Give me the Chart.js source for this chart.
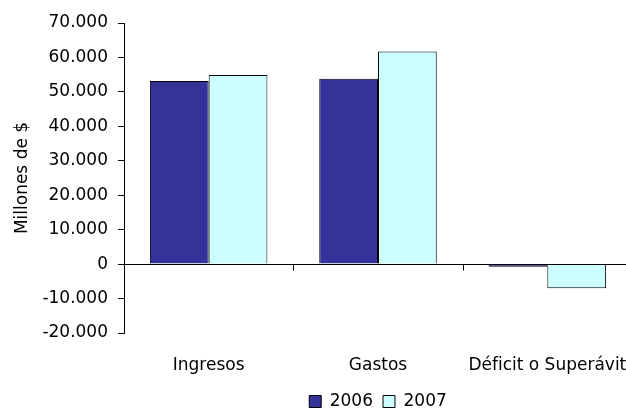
<!DOCTYPE html>
<html lang="es">
<head>
  <meta charset="UTF-8">
  <title>Ingresos y Gastos</title>
  <script src="https://cdn.jsdelivr.net/npm/chart.js"></script>
  <style>
    html, body { margin: 0; padding: 0; background: #fff; overflow: hidden; }
    canvas { display: block; }
  </style>
</head>
<body>
  <canvas id="chart" width="634" height="420"></canvas>

  <script>
    // datos (millones de $)
    const categories = ['Ingresos', 'Gastos', 'Déficit o Superávit'];
    const years = ['2006', '2007'];
    const values2006 = [53150, 53800, -800];
    const values2007 = [54900, 61700, -7000];
    const yMin = -20000, yMax = 70000, yStep = 10000;

    const fontFamily = '"DejaVu Sans", Verdana, sans-serif';

    // formato con punto de miles
    function fmt(v) {
      const s = String(Math.abs(v)).replace(/\B(?=(\d{3})+(?!\d))/g, '.');
      return (v < 0 ? '-' : '') + s;
    }

    // línea del cero con marcas entre categorías
    const zeroLine = {
      id: 'zeroLine',
      afterDatasetsDraw(chart) {
        const { ctx, chartArea, scales } = chart;
        const y0 = Math.round(scales.y.getPixelForValue(0)) + 0.5;
        ctx.save();
        ctx.strokeStyle = '#000';
        ctx.lineWidth = 1;
        ctx.beginPath();
        ctx.moveTo(chartArea.left, y0);
        ctx.lineTo(chartArea.right, y0);
        const n = scales.x.ticks.length;
        for (let i = 1; i < n; i++) {
          const x = Math.round((scales.x.getPixelForTick(i - 1) + scales.x.getPixelForTick(i)) / 2) + 0.5;
          ctx.moveTo(x, y0);
          ctx.lineTo(x, y0 + 6);
        }
        ctx.stroke();
        ctx.restore();
      }
    };

    new Chart(document.getElementById('chart'), {
      type: 'bar',
      data: {
        labels: categories,
        datasets: [
          { label: years[0], data: values2006, backgroundColor: '#333399', borderColor: '#000', borderWidth: 1,
            barPercentage: 1, categoryPercentage: 0.694 },
          { label: years[1], data: values2007, backgroundColor: '#CCFFFF', borderColor: '#000', borderWidth: 1,
            barPercentage: 1, categoryPercentage: 0.694 }
        ]
      },
      options: {
        responsive: false,
        animation: false,
        layout: { padding: { top: 23, left: 8, right: 2, bottom: 0 } },
        plugins: {
          legend: {
            position: 'bottom',
            fullSize: false,
            labels: { boxWidth: 12, boxHeight: 12, padding: 10, color: '#000', font: { family: fontFamily, size: 17 } }
          },
          tooltip: { enabled: false }
        },
        scales: {
          x: {
            grid: { display: false },
            border: { display: false },
            ticks: { color: '#000', padding: 14, font: { family: fontFamily, size: 17 } },
            afterFit: s => { s.height = 50; s.paddingLeft = 0; s.paddingRight = 0; }
          },
          y: {
            min: yMin,
            max: yMax,
            grid: { drawOnChartArea: false, tickLength: 6, color: '#000' },
            border: { display: true, color: '#000' },
            ticks: { stepSize: yStep, padding: 10, color: '#000', font: { family: fontFamily, size: 17 }, callback: v => fmt(v) },
            title: { display: true, text: 'Millones de $', color: '#000', font: { family: fontFamily, size: 17 }, padding: { top: 4, bottom: 6 } },
            afterFit: s => { s.width = 116; s.paddingTop = 0; s.paddingBottom = 0; }
          }
        }
      },
      plugins: [zeroLine]
    });
  </script>
</body>
</html>
